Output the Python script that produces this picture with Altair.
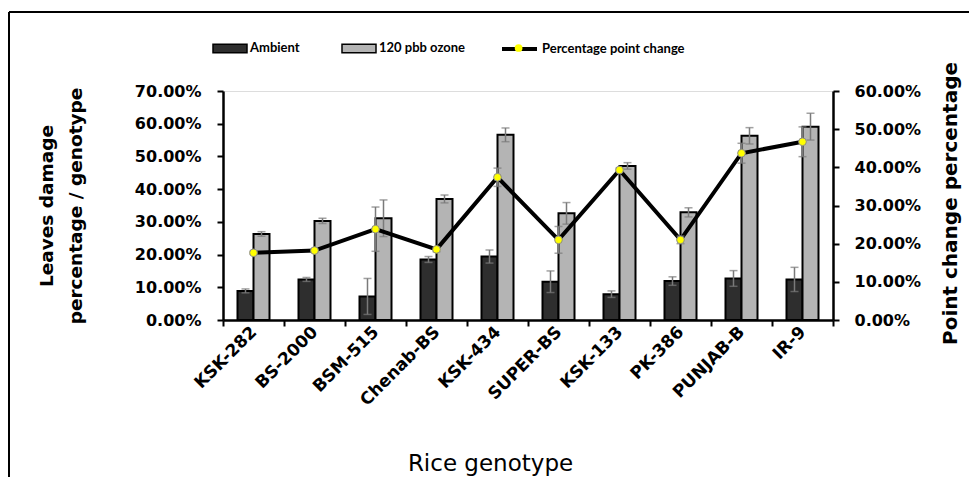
import altair as alt
import pandas as pd

genotypes = ["KSK-282", "BS-2000", "BSM-515", "Chenab-BS", "KSK-434",
             "SUPER-BS", "KSK-133", "PK-386", "PUNJAB-B", "IR-9"]
treatments = ["Ambient", "120 pbb ozone"]
ambient = [0.089, 0.124, 0.072, 0.185, 0.194, 0.117, 0.079, 0.119, 0.127, 0.124]
ambient_err = [0.006, 0.006, 0.055, 0.009, 0.020, 0.033, 0.010, 0.013, 0.024, 0.037]
ozone = [0.263, 0.303, 0.311, 0.370, 0.566, 0.326, 0.471, 0.329, 0.563, 0.591]
ozone_err = [0.007, 0.008, 0.056, 0.012, 0.021, 0.033, 0.010, 0.014, 0.025, 0.041]
change = [0.176, 0.182, 0.238, 0.185, 0.374, 0.210, 0.393, 0.210, 0.437, 0.467]
change_err = [0.004, 0.004, 0.058, 0.006, 0.024, 0.035, 0.005, 0.010, 0.026, 0.039]
series_name = "Percentage point change"
marker_key = "marker"

rows = []
for g, a, ae, o, oe in zip(genotypes, ambient, ambient_err, ozone, ozone_err):
    rows.append({"genotype": g, "treatment": treatments[0], "value": a, "lo": a - ae, "hi": a + ae})
    rows.append({"genotype": g, "treatment": treatments[1], "value": o, "lo": o - oe, "hi": o + oe})
bars_df = pd.DataFrame(rows)
line_df = pd.DataFrame({
    "genotype": genotypes,
    "change": change,
    "clo": [c - e for c, e in zip(change, change_err)],
    "chi": [c + e for c, e in zip(change, change_err)],
    "series": [series_name] * len(genotypes),
    "marker": [marker_key] * len(genotypes),
})

FONT = "DejaVu Sans"
LFONT = "Lato"

x_axis = alt.Axis(
    title="Rice genotype", titleFont=FONT, titleFontSize=23, titleFontWeight="normal",
    titleX=267, titleY=143, titleAlign="center", titleBaseline="middle",
    labelAngle=315, labelAlign="right", labelBaseline="middle",
    labelFont=FONT, labelFontSize=17, labelFontWeight="bold", labelColor="black",
    labelPadding=3, tickBand="extent", tickSize=6, tickWidth=2, tickColor="black",
    domainColor="black", domainWidth=2.5,
)
X = alt.X("genotype:N", sort=genotypes,
          scale=alt.Scale(paddingInner=0, paddingOuter=0), axis=x_axis)
XO = alt.XOffset("treatment:N", sort=treatments,
                 scale=alt.Scale(paddingInner=0, paddingOuter=0.906))

left_axis = alt.Axis(
    title=["Leaves damage", "percentage / genotype"], format=".2%",
    values=[0, 0.1, 0.2, 0.3, 0.4, 0.5, 0.6, 0.7], grid=False,
    tickSize=6, tickWidth=2, tickColor="black", domainColor="black", domainWidth=2.5,
    labelFont=FONT, labelFontSize=16, labelFontWeight="bold", labelColor="black",
    labelPadding=16,
    titleFont=FONT, titleFontSize=18.5, titleFontWeight="bold", titleColor="black",
    titleX=-177, titleY=114.5, titleAngle=270, titleAlign="center",
    titleBaseline="middle", titleLineHeight=29,
)
left_scale = alt.Scale(domain=[0, 0.7], nice=False)

right_axis = alt.Axis(
    title="Point change percentage", orient="right", format=".2%",
    values=[0, 0.1, 0.2, 0.3, 0.4, 0.5, 0.6], grid=False,
    tickSize=6, tickWidth=2, tickColor="black", domainColor="black", domainWidth=2.5,
    labelFont=FONT, labelFontSize=16, labelFontWeight="bold", labelColor="black",
    labelPadding=15,
    titleFont=FONT, titleFontSize=20, titleFontWeight="bold", titleColor="black",
    titleX=117, titleY=112, titleAngle=270, titleAlign="center",
    titleBaseline="middle",
)
right_scale = alt.Scale(domain=[0, 0.6], nice=False)

fill = alt.Fill(
    "treatment:N",
    scale=alt.Scale(domain=treatments, range=["#2e2e2e", "#b4b4b4"]),
    legend=alt.Legend(
        title=None, orient="none", legendX=-11, legendY=-61, direction="horizontal",
        symbolType="M-1,-0.25H1V0.25H-1Z", symbolSize=1156,
        symbolStrokeColor="black", symbolStrokeWidth=1.5, symbolOpacity=1,
        labelFont=LFONT, labelFontSize=13, labelFontWeight="bold", labelColor="black",
        labelOffset=2, columnPadding=39, padding=0,
    ),
)

bars = alt.Chart(bars_df).mark_bar(stroke="black", strokeWidth=2).encode(
    x=X, xOffset=XO,
    y=alt.Y("value:Q", scale=left_scale, axis=left_axis),
    fill=fill,
)
err_rule = alt.Chart(bars_df).mark_rule(color="#7a7a7a", strokeWidth=1.5).encode(
    x=X, xOffset=XO,
    y=alt.Y("lo:Q", scale=left_scale, axis=left_axis), y2="hi:Q",
)
cap_hi = alt.Chart(bars_df).mark_tick(color="#7a7a7a", thickness=1.5, size=8).encode(
    x=X, xOffset=XO, y=alt.Y("hi:Q", scale=left_scale, axis=left_axis),
)
cap_lo = alt.Chart(bars_df).mark_tick(color="#7a7a7a", thickness=1.5, size=8).encode(
    x=X, xOffset=XO, y=alt.Y("lo:Q", scale=left_scale, axis=left_axis),
)
left_group = alt.layer(bars, err_rule, cap_hi, cap_lo)

line = alt.Chart(line_df).mark_line(strokeWidth=4).encode(
    x=X,
    y=alt.Y("change:Q", scale=right_scale, axis=right_axis),
    stroke=alt.Stroke(
        "series:N", scale=alt.Scale(domain=[series_name], range=["black"]),
        legend=alt.Legend(
            title=None, orient="none", legendX=277, legendY=-61.5,
            symbolType="stroke", symbolSize=1225, symbolStrokeWidth=4,
            labelFont=LFONT, labelFontSize=13, labelFontWeight="bold", labelColor="black",
            labelOffset=3, padding=0,
        ),
    ),
)
perr = alt.Chart(line_df).mark_rule(color="#7a7a7a", strokeWidth=1.5).encode(
    x=X, y=alt.Y("clo:Q", scale=right_scale, axis=right_axis), y2="chi:Q",
)
pcap_hi = alt.Chart(line_df).mark_tick(color="#7a7a7a", thickness=1.5, size=8).encode(
    x=X, y=alt.Y("chi:Q", scale=right_scale, axis=right_axis),
)
pcap_lo = alt.Chart(line_df).mark_tick(color="#7a7a7a", thickness=1.5, size=8).encode(
    x=X, y=alt.Y("clo:Q", scale=right_scale, axis=right_axis),
)
points = alt.Chart(line_df).mark_point(
    filled=True, fill="#ffff00", stroke="#8a8a8a", strokeWidth=1, size=60, opacity=1
).encode(
    x=X,
    y=alt.Y("change:Q", scale=right_scale, axis=right_axis),
    shape=alt.Shape(
        "marker:N", scale=alt.Scale(domain=[marker_key], range=["circle"]),
        legend=alt.Legend(
            title=None, orient="none", legendX=290.6, legendY=-48,
            symbolSize=60, symbolFillColor="#ffff00", symbolStrokeColor="#8a8a8a",
            symbolStrokeWidth=1, labelExpr="''", padding=0,
        ),
    ),
)
right_group = alt.layer(line, perr, pcap_hi, pcap_lo, points)

frame_df = pd.DataFrame({"k": [0]})
frame_left = alt.Chart(frame_df).mark_rule(color="black", strokeWidth=2).encode(
    x=alt.value(-214), y=alt.value(-79), y2=alt.value(400)
)
frame_top = alt.Chart(frame_df).mark_rule(color="black", strokeWidth=2).encode(
    x=alt.value(-214), x2=alt.value(800), y=alt.value(-79)
)

chart = alt.layer(left_group, right_group, frame_left, frame_top).resolve_scale(
    y="independent"
).properties(
    width=610, height=229,
    autosize=alt.AutoSizeParams(type="none"),
    padding={"left": 215, "top": 83, "right": 136, "bottom": 157},
).configure_view(stroke=None).configure(background="white")

chart.save("out.html", embed_options={"renderer": "svg", "actions": False})
